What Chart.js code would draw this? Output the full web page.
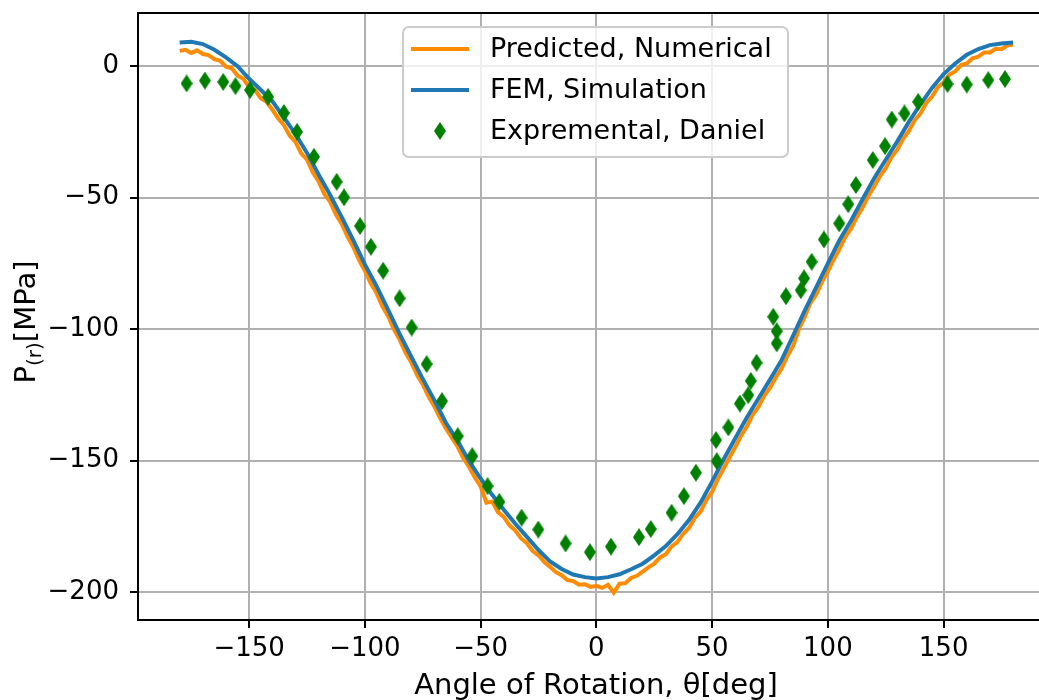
<!DOCTYPE html>
<html>
<head>
<meta charset="utf-8">
<script src="https://cdn.jsdelivr.net/npm/chart.js@4.4.1/dist/chart.umd.min.js"></script>
<style>
  html, body { margin: 0; padding: 0; background: #fff; }
  #wrap { width: 1039px; height: 700px; }
</style>
</head>
<body>
<div id="wrap"><canvas id="chart" width="1039" height="700"></canvas></div>
<script>
// ===== Data =====
const xTicks = [-150, -100, -50, 0, 50, 100, 150];
const yTicks = [-200, -150, -100, -50, 0];

// Predicted, Numerical (orange) - every 2.5 deg
const predAngles = [
  -180, -177.5, -175, -172.5, -170, -167.5, -165, -162.5, -160, -157.5,
  -155, -152.5, -150, -147.5, -145, -142.5, -140, -137.5, -135, -132.5,
  -130, -127.5, -125, -122.5, -120, -117.5, -115, -112.5, -110, -107.5,
  -105, -102.5, -100, -97.5, -95, -92.5, -90, -87.5, -85, -82.5,
  -80, -77.5, -75, -72.5, -70, -67.5, -65, -62.5, -60, -57.5,
  -55, -52.5, -50, -47.5, -45, -42.5, -40, -37.5, -35, -32.5,
  -30, -27.5, -25, -22.5, -20, -17.5, -15, -12.5, -10, -7.5,
  -5, -2.5, 0, 2.5, 5, 7.5, 10, 12.5, 15, 17.5,
  20, 22.5, 25, 27.5, 30, 32.5, 35, 37.5, 40, 42.5,
  45, 47.5, 50, 52.5, 55, 57.5, 60, 62.5, 65, 67.5,
  70, 72.5, 75, 77.5, 80, 82.5, 85, 87.5, 90, 92.5,
  95, 97.5, 100, 102.5, 105, 107.5, 110, 112.5, 115, 117.5,
  120, 122.5, 125, 127.5, 130, 132.5, 135, 137.5, 140, 142.5,
  145, 147.5, 150, 152.5, 155, 157.5, 160, 162.5, 165, 167.5,
  170, 172.5, 175, 177.5, 180
];
const predValues = [
  5.8, 6.2, 5.0, 6.0, 4.6, 4.2, 2.6, 2.0, -0.2, -0.8,
  -3.6, -4.8, -8.0, -9.0, -12.2, -13.6, -16.5, -19.8, -22.4, -26.4,
  -28.8, -33.2, -35.6, -40.4, -43.8, -48.6, -51.6, -56.4, -60.0, -64.8,
  -68.8, -73.8, -77.8, -82.6, -86.2, -91.2, -95.0, -100.0, -104.0, -108.8,
  -112.6, -117.4, -121.0, -125.6, -129.4, -133.8, -137.8, -141.2, -144.6, -149.0,
  -152.4, -156.4, -159.8, -166.0, -165.6, -169.6, -171.4, -174.6, -176.6, -179.6,
  -181.4, -184.4, -186.0, -188.6, -190.4, -192.4, -193.6, -195.4, -195.8, -197.2,
  -197.0, -198.0, -197.6, -198.4, -197.2, -200.2, -196.8, -196.6, -194.6, -193.8,
  -192.2, -190.6, -189.2, -186.8, -185.6, -182.6, -181.0, -177.8, -175.6, -171.8,
  -169.4, -165.0, -161.8, -157.0, -153.0, -148.8, -144.8, -140.6, -137.0, -132.6,
  -129.6, -125.4, -122.4, -118.4, -115.0, -110.2, -106.4, -100.0, -95.4, -90.0,
  -86.8, -82.0, -78.0, -73.6, -69.6, -65.0, -61.8, -57.4, -53.8, -49.4,
  -45.8, -41.8, -38.8, -34.6, -31.8, -27.6, -24.6, -20.6, -18.0, -14.0,
  -11.6, -8.0, -6.2, -3.2, -2.0, 0.4, 1.0, 3.0, 3.6, 5.2,
  5.2, 6.6, 6.4, 7.8, 8.2
];

// FEM, Simulation (blue) - every 5 deg
const femAngles = [
  -180, -175, -170, -165, -160, -155, -150, -145, -140, -135,
  -130, -125, -120, -115, -110, -105, -100, -95, -90, -85,
  -80, -75, -70, -65, -60, -55, -50, -45, -40, -35,
  -30, -25, -20, -15, -10, -5, 0, 5, 10, 15,
  20, 25, 30, 35, 40, 45, 50, 55, 60, 65,
  70, 75, 80, 85, 90, 95, 100, 105, 110, 115,
  120, 125, 130, 135, 140, 145, 150, 155, 160, 165,
  170, 175, 180
];
const femValues = [
  9.0, 9.3, 8.4, 6.2, 3.3, 0.0, -4.8, -9.0, -13.3, -19.5,
  -25.8, -33.0, -41.2, -49.0, -57.4, -66.2, -75.4, -83.6, -92.6, -101.8,
  -110.4, -118.9, -127.0, -135.6, -142.4, -150.2, -156.8, -163.0, -168.7, -174.0,
  -179.0, -184.0, -188.3, -191.2, -193.3, -194.3, -194.8, -194.3, -193.2, -191.3,
  -189.2, -186.0, -182.5, -178.0, -172.6, -166.0, -158.0, -149.5, -141.5, -133.6,
  -126.4, -119.2, -111.8, -102.5, -93.0, -84.0, -75.0, -66.2, -58.8, -50.6,
  -42.6, -35.6, -28.6, -21.2, -14.5, -8.3, -3.0, 1.0, 4.3, 6.5,
  8.0, 8.6, 9.0
];

// Expremental, Daniel (green diamonds)
const expAngles = [
  -177.0, -169.1, -161.2, -155.9, -149.6, -141.8, -135.0, -129.3, -122.0, -112.2,
  -109.0, -102.1, -97.4, -92.1, -85.0, -79.8, -73.3, -66.7, -59.9, -53.6,
  -47.0, -41.9, -32.3, -25.1, -13.3, -2.8, 6.3, 18.4, 23.5, 32.5,
  37.8, 43.0, 52.0, 51.7, 57.0, 62.0, 65.6, 66.7, 69.2, 77.9,
  77.9, 76.4, 81.9, 88.3, 89.7, 93.0, 98.3, 104.9, 108.8, 112.1,
  119.4, 124.7, 127.6, 133.1, 139.0, 151.7, 160.0, 169.3, 176.5
];
const expValues = [
  -6.6, -5.5, -6.0, -7.6, -9.1, -11.7, -17.8, -25.0, -34.5, -44.0,
  -49.9, -60.8, -68.7, -77.8, -88.3, -99.4, -113.3, -127.4, -140.7, -148.3,
  -159.7, -165.7, -171.7, -176.2, -181.5, -184.8, -182.7, -179.1, -176.0, -169.8,
  -163.5, -154.6, -150.2, -142.2, -137.4, -128.3, -125.1, -119.7, -112.8, -105.4,
  -100.8, -95.3, -87.5, -85.2, -80.7, -74.4, -65.9, -59.8, -52.5, -45.2,
  -35.7, -30.4, -20.3, -18.0, -13.6, -6.8, -7.0, -5.3, -4.9
];

// ===== Styling =====
const FONT = '"DejaVu Sans", "Liberation Sans", sans-serif';
const ORANGE = '#ff8c00';
const BLUE = '#1f77b4';
const GREEN = '#008000';

const toPoints = (xs, ys) => xs.map((x, i) => ({ x, y: ys[i] }));
const fmt = v => (v < 0 ? '\u2212' + Math.abs(v) : String(v));

// thin diamond marker, like matplotlib 'd'
const makeDiamond = (w, h, color) => {
  const c = document.createElement('canvas');
  c.width = w; c.height = h;
  const g = c.getContext('2d');
  g.fillStyle = color;
  g.beginPath();
  g.moveTo(w / 2, 0);
  g.lineTo(w, h / 2);
  g.lineTo(w / 2, h);
  g.lineTo(0, h / 2);
  g.closePath();
  g.fill();
  return c;
};
const diamond = makeDiamond(12, 18, GREEN);

// keep the plot box where the reference has it
const noPad = s => { s.paddingTop = 0; s.paddingBottom = 0; s.paddingLeft = 0; s.paddingRight = 0; };

// legend, spines and axis titles drawn on top
const decor = {
  id: 'decor',
  afterDraw(chart) {
    const { ctx, chartArea: a } = chart;
    ctx.save();

    // top spine
    ctx.strokeStyle = '#000';
    ctx.lineWidth = 2;
    ctx.beginPath();
    ctx.moveTo(a.left - 1, a.top);
    ctx.lineTo(a.right, a.top);
    ctx.stroke();

    // x title
    ctx.fillStyle = '#000';
    ctx.font = '29px ' + FONT;
    ctx.textAlign = 'center';
    ctx.textBaseline = 'alphabetic';
    ctx.fillText('Angle of Rotation, \u03b8[deg]', 596, 694);

    // y title with subscript
    ctx.save();
    ctx.translate(35, 322);
    ctx.rotate(-Math.PI / 2);
    const parts = [
      { t: 'P', size: 29, dy: 0 },
      { t: '(r)', size: 20, dy: 6 },
      { t: '[MPa]', size: 29, dy: 0 }
    ];
    let total = 0;
    parts.forEach(p => { ctx.font = p.size + 'px ' + FONT; p.w = ctx.measureText(p.t).width; total += p.w; });
    let cx = -total / 2;
    ctx.textAlign = 'left';
    parts.forEach(p => {
      ctx.font = p.size + 'px ' + FONT;
      ctx.fillText(p.t, cx, p.dy);
      cx += p.w;
    });
    ctx.restore();

    // legend box
    const lx = 403, ly = 27, lw = 385, lh = 130, r = 6;
    ctx.beginPath();
    ctx.moveTo(lx + r, ly);
    ctx.lineTo(lx + lw - r, ly);
    ctx.arcTo(lx + lw, ly, lx + lw, ly + r, r);
    ctx.lineTo(lx + lw, ly + lh - r);
    ctx.arcTo(lx + lw, ly + lh, lx + lw - r, ly + lh, r);
    ctx.lineTo(lx + r, ly + lh);
    ctx.arcTo(lx, ly + lh, lx, ly + lh - r, r);
    ctx.lineTo(lx, ly + r);
    ctx.arcTo(lx, ly, lx + r, ly, r);
    ctx.closePath();
    ctx.fillStyle = 'rgba(255,255,255,0.8)';
    ctx.fill();
    ctx.strokeStyle = '#cccccc';
    ctx.lineWidth = 2;
    ctx.stroke();

    const legendOrder = [2, 1, 0];
    const rowY = [49, 90, 131];
    ctx.font = '27px ' + FONT;
    ctx.textAlign = 'left';
    ctx.textBaseline = 'middle';
    legendOrder.forEach((idx, i) => {
      const ds = chart.data.datasets[idx];
      const y = rowY[i];
      if (ds.showLine === false) {
        ctx.drawImage(diamond, 440 - diamond.width / 2, y - diamond.height / 2);
      } else {
        ctx.strokeStyle = ds.borderColor;
        ctx.lineWidth = 4;
        ctx.beginPath();
        ctx.moveTo(411, y);
        ctx.lineTo(469, y);
        ctx.stroke();
      }
      ctx.fillStyle = '#000';
      ctx.fillText(ds.label, 490, y + 1);
    });

    ctx.restore();
  }
};

new Chart(document.getElementById('chart'), {
  type: 'line',
  data: {
    datasets: [
      {
        type: 'scatter',
        label: 'Expremental, Daniel',
        data: toPoints(expAngles, expValues),
        showLine: false,
        pointStyle: diamond,
        pointRadius: 9,
        backgroundColor: GREEN,
        borderColor: GREEN,
        order: 0
      },
      {
        label: 'FEM, Simulation',
        data: toPoints(femAngles, femValues),
        borderColor: BLUE,
        backgroundColor: BLUE,
        borderWidth: 4,
        pointRadius: 0,
        tension: 0,
        fill: false,
        order: 1
      },
      {
        label: 'Predicted, Numerical',
        data: toPoints(predAngles, predValues),
        borderColor: ORANGE,
        backgroundColor: ORANGE,
        borderWidth: 4,
        pointRadius: 0,
        tension: 0,
        fill: false,
        order: 2
      }
    ]
  },
  options: {
    responsive: false,
    animation: false,
    devicePixelRatio: 1,
    layout: { autoPadding: false, padding: { top: 13, right: 0, bottom: 0, left: 0 } },
    plugins: {
      legend: { display: false },
      tooltip: { enabled: false }
    },
    scales: {
      x: {
        type: 'linear',
        min: -198,
        max: 191.2,
        afterBuildTicks: s => { s.ticks = xTicks.map(v => ({ value: v })); },
        afterFit: s => { s.height = 80; noPad(s); },
        grid: { color: '#b0b0b0', lineWidth: 2, tickColor: '#000', tickLength: 8, tickWidth: 2 },
        border: { color: '#000', width: 2 },
        ticks: {
          color: '#000',
          font: { family: FONT, size: 26 },
          padding: 6,
          maxRotation: 0,
          autoSkip: false,
          callback: fmt
        }
      },
      y: {
        type: 'linear',
        min: -210.6,
        max: 20.2,
        afterBuildTicks: s => { s.ticks = yTicks.map(v => ({ value: v })); },
        afterFit: s => { s.width = 138; noPad(s); },
        grid: { color: '#b0b0b0', lineWidth: 2, tickColor: '#000', tickLength: 8, tickWidth: 2 },
        border: { color: '#000', width: 2 },
        ticks: {
          color: '#000',
          font: { family: FONT, size: 26 },
          padding: 11,
          autoSkip: false,
          callback: fmt
        }
      }
    }
  },
  plugins: [decor]
});
</script>
</body>
</html>
